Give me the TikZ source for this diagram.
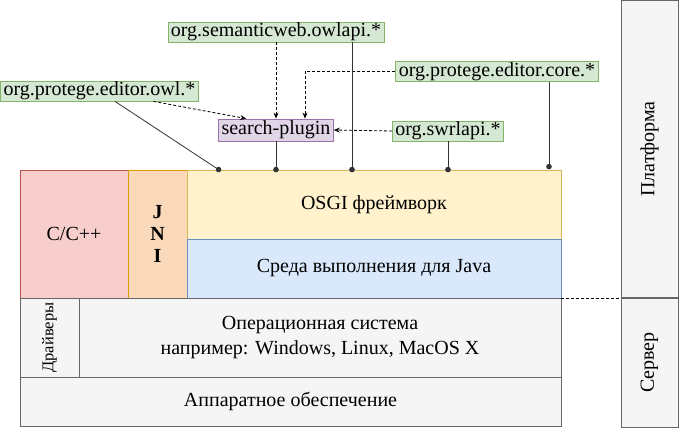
\documentclass[tikz,border=0pt]{standalone}
\usepackage{fontspec}
\setmainfont{Liberation Serif}
\usepackage{tikz}
\usetikzlibrary{positioning,arrows.meta,calc}
\definecolor{cppRed}{RGB}{248,206,204}
\definecolor{cppRedLine}{RGB}{184,84,80}
\definecolor{jniPeach}{RGB}{250,217,186}
\definecolor{jniPeachLine}{RGB}{215,155,0}
\definecolor{osgiYellow}{RGB}{255,242,204}
\definecolor{osgiYellowLine}{RGB}{214,182,86}
\definecolor{jreBlue}{RGB}{218,232,252}
\definecolor{jreBlueLine}{RGB}{108,142,191}
\definecolor{sysGray}{RGB}{245,245,245}
\definecolor{sysGrayLine}{RGB}{102,102,102}
\definecolor{pkgGreen}{RGB}{213,232,212}
\definecolor{pkgGreenLine}{RGB}{130,179,102}
\definecolor{plugViolet}{RGB}{225,213,231}
\definecolor{plugVioletLine}{RGB}{150,115,166}

\begin{document}
\begin{tikzpicture}[x=1pt, y=1pt,
  every node/.style={font=\fontsize{20}{22}\selectfont},
  layerbox/.style={draw=#1, line width=0.8pt, inner sep=0pt, align=center},
  pkgbox/.style={draw=pkgGreenLine, fill=pkgGreen, line width=0.8pt, inner xsep=3pt, inner ysep=0pt, minimum height=20pt},
  dependson/.style={dash pattern=on 3pt off 2pt, line width=0.8pt, -{Stealth[length=6pt,width=5pt]}},
  runson/.style={line width=0.8pt, draw=black!80, -{Circle[length=5.5pt]}, shorten >=-2.75pt},
]
\useasboundingbox (0,0) rectangle (681,-428);

% ===================================================================
% LAYERS
% ===================================================================
\node[layerbox=cppRedLine, fill=cppRed, minimum width=108, minimum height=128] (cpp) at (74,-234) {C/C++};
\node[layerbox=jniPeachLine, fill=jniPeach, minimum width=59, minimum height=128] (jni) at (157.5,-234) {\textbf{J}\\\textbf{N}\\\textbf{I}};
\node[layerbox=osgiYellowLine, fill=osgiYellow, minimum width=374, minimum height=69] (osgi) at (374,-204.5) {OSGI фреймворк};
\node[layerbox=jreBlueLine, fill=jreBlue, minimum width=374, minimum height=59] (jre) at (374,-268.5) {Среда выполнения для Java};
\node[layerbox=sysGrayLine, fill=sysGray, minimum width=79, minimum height=59, rotate=90, font=\fontsize{16.5}{18}\selectfont] (drivers) at (49.5,-337.5) {Драйверы};
\node[layerbox=sysGrayLine, fill=sysGray, minimum width=482, minimum height=79, font=\fontsize{20}{25}\selectfont] (os) at (320,-337.5) {Операционная система\\например: Windows, Linux, MacOS X};
\node[layerbox=sysGrayLine, fill=sysGray, minimum width=541, minimum height=49] (hw) at (290.5,-401.5) {Аппаратное обеспечение};

% Right column
\node[layerbox=sysGrayLine, fill=sysGray, minimum width=297, minimum height=57, rotate=90] (platform) at (649.5,-149) {Платформа};
\node[layerbox=sysGrayLine, fill=sysGray, minimum width=129, minimum height=57, rotate=90] (server) at (649.5,-362.5) {Сервер};
\draw[dash pattern=on 3pt off 2pt, line width=0.8pt] (jre.south east) -- (jre.south east -| server.north);

% ===================================================================
% PACKAGES
% ===================================================================
\node[pkgbox] (owlapi) at (276,-32) {org.semanticweb.owlapi.*};
\node[pkgbox] (edowl) at (99.5,-91) {org.protege.editor.owl.*};
\node[pkgbox] (edcore) at (497,-71.5) {org.protege.editor.core.*};
\node[pkgbox] (swrl) at (448,-131) {org.swrlapi.*};
\node[draw=plugVioletLine, fill=plugViolet, line width=0.8pt, inner xsep=3pt, inner ysep=0pt, minimum height=22pt] (search) at (276,-130) {search-plugin};

% leg points on the package boxes
\coordinate (edowlDep) at ($(edowl.south)+(54,0)$);
\coordinate (edowlLeg) at ($(edowl.south)+(15.5,0)$);
\coordinate (owlapiLeg) at ($(owlapi.south)+(76,0)$);
\coordinate (edcoreLeg) at ($(edcore.south)+(52,0)$);
\coordinate (searchIn) at ($(search.north)+(29,0)$);
\coordinate (searchOwl) at ($(search.north west)+(28,0)$);
\coordinate (osgiOwl) at ($(osgi.north west)+(32,0)$);

% Dependencies of the plugin
\draw[dependson] (owlapi.south) -- (search.north);
\draw[dependson] (edcore.west) -| (searchIn);
\draw[dependson] (edowlDep) -- (searchOwl);
\draw[dependson] (swrl.west) -- (search.east);

% Bundles installed in OSGI
\draw[runson] (edowlLeg) -- (osgiOwl);
\draw[runson] (search.south) -- (search.south |- osgi.north);
\draw[runson] (owlapiLeg) -- (owlapiLeg |- osgi.north);
\draw[runson] (swrl.south) -- (swrl.south |- osgi.north);
\draw[runson] (edcoreLeg) -- ([yshift=3pt]edcoreLeg |- osgi.north);

\end{tikzpicture}
\end{document}
